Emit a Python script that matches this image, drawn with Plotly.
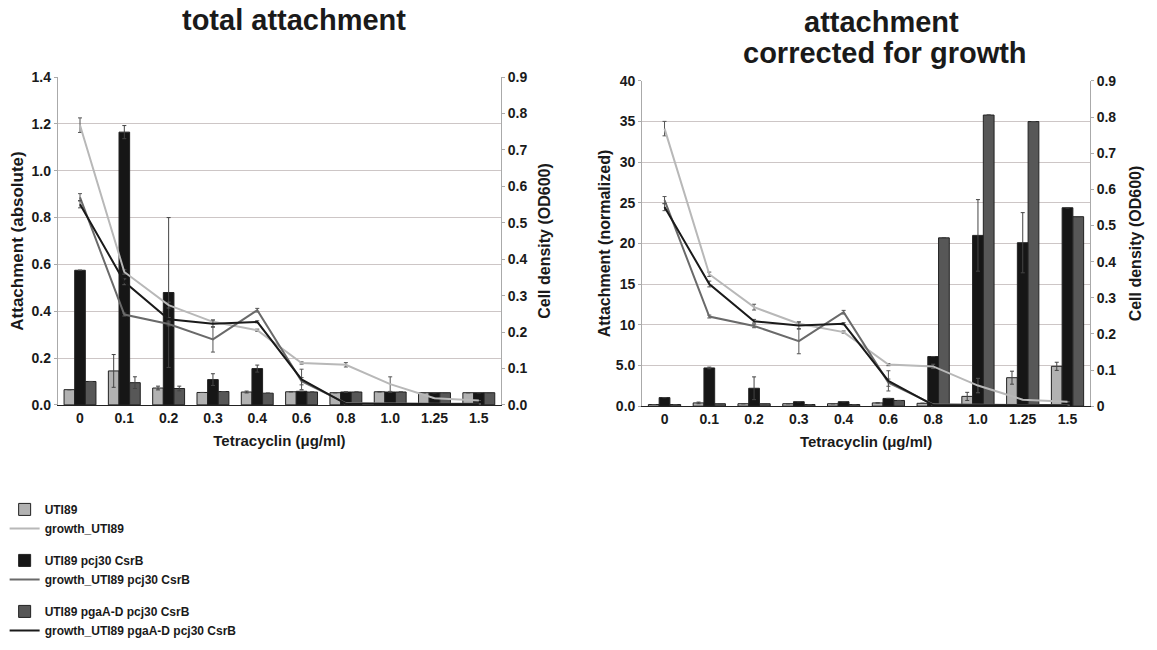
import plotly.graph_objects as go

# Tetracyclin concentrations (µg/ml)
conc = ["0", "0.1", "0.2", "0.3", "0.4", "0.6", "0.8", "1.0", "1.25", "1.5"]

# Total attachment (absolute)
abs_uti89 = [0.065, 0.145, 0.072, 0.053, 0.055, 0.056, 0.052, 0.056, 0.052, 0.052]
abs_uti89_err = [0.0, 0.07, 0.008, 0.0, 0.004, 0.0, 0.0, 0.0, 0.0, 0.0]
abs_csrb = [0.575, 1.165, 0.48, 0.108, 0.155, 0.058, 0.055, 0.055, 0.052, 0.052]
abs_csrb_err = [0.0, 0.028, 0.32, 0.025, 0.015, 0.0, 0.0, 0.0, 0.0, 0.0]
abs_pga = [0.1, 0.095, 0.07, 0.057, 0.05, 0.055, 0.055, 0.055, 0.052, 0.052]
abs_pga_err = [0.0, 0.025, 0.01, 0.0, 0.0, 0.0, 0.0, 0.0, 0.0, 0.0]

# Attachment corrected for growth (normalized)
norm_uti89 = [0.2, 0.4, 0.3, 0.3, 0.3, 0.4, 0.35, 1.2, 3.5, 4.9]
norm_uti89_err = [0.0, 0.1, 0.0, 0.0, 0.0, 0.0, 0.0, 0.5, 0.8, 0.5]
norm_csrb = [1.05, 4.7, 2.2, 0.55, 0.55, 0.95, 6.1, 21.0, 20.1, 24.4]
norm_csrb_err = [0.0, 0.1, 1.4, 0.0, 0.0, 0.0, 0.0, 4.4, 3.7, 0.0]
norm_pga = [0.2, 0.3, 0.3, 0.2, 0.2, 0.7, 20.7, 35.8, 35.0, 23.3]
norm_pga_err = [0.0, 0.0, 0.0, 0.0, 0.0, 0.0, 0.0, 0.0, 0.0, 0.0]

# Growth (cell density, OD600)
od_uti89 = [0.768, 0.365, 0.274, 0.228, 0.205, 0.115, 0.11, 0.057, 0.018, 0.012]
od_uti89_err = [0.02, 0.006, 0.008, 0.005, 0.003, 0.003, 0.006, 0.02, 0.0, 0.0]
od_csrb = [0.57, 0.248, 0.222, 0.18, 0.26, 0.065, 0.005, 0.003, 0.003, 0.003]
od_csrb_err = [0.01, 0.004, 0.005, 0.035, 0.005, 0.01, 0.0, 0.0, 0.0, 0.0]
od_pga = [0.551, 0.338, 0.235, 0.223, 0.228, 0.07, 0.003, 0.002, 0.002, 0.002]
od_pga_err = [0.01, 0.008, 0.005, 0.01, 0.003, 0.028, 0.0, 0.0, 0.0, 0.0]

# Strain names and styles
strains = ["UTI89", "UTI89 pcj30 CsrB", "UTI89 pgaA-D pcj30 CsrB"]
bar_colors = ["#b2b2b2", "#161616", "#575757"]
line_colors = ["#b8b8b8", "#6a6a6a", "#1a1a1a"]

FONT = "Liberation Sans, Arial, sans-serif"

fig = go.Figure()

panels = [
    ("x", "y", "y2", [abs_uti89, abs_csrb, abs_pga], [abs_uti89_err, abs_csrb_err, abs_pga_err], True),
    ("x2", "y3", "y4", [norm_uti89, norm_csrb, norm_pga], [norm_uti89_err, norm_csrb_err, norm_pga_err], False),
]
growth = [od_uti89, od_csrb, od_pga]
growth_err = [od_uti89_err, od_csrb_err, od_pga_err]

for xa, ya, ya2, bars, bar_errs, legend in panels:
    for i, name in enumerate(strains):
        fig.add_trace(go.Bar(
            x=conc, y=bars[i], name=name, legendgroup=name, showlegend=legend,
            xaxis=xa, yaxis=ya,
            marker=dict(color=bar_colors[i], line=dict(color="#222222", width=1)),
            error_y=dict(type="data", array=bar_errs[i], color="#444444", thickness=1, width=2),
        ))
    for i, name in enumerate(strains):
        fig.add_trace(go.Scatter(
            x=conc, y=growth[i], name="growth_" + name, legendgroup=name, showlegend=legend,
            xaxis=xa, yaxis=ya2, mode="lines",
            line=dict(color=line_colors[i], width=2),
            error_y=dict(type="data", array=growth_err[i], color="#555555", thickness=1, width=2),
        ))

tick_font = dict(family=FONT, size=14, color="#1a1a1a", weight="bold")
grid = "#cdc6c6"
head_font = dict(family=FONT, size=29, color="#1a1a1a", weight="bold")


def ytitle(text, standoff, size=16):
    return dict(text=text, font=dict(family=FONT, size=size, color="#1a1a1a", weight="bold"), standoff=standoff)


xcommon = dict(
    type="category", tickfont=tick_font, showline=True, linecolor="#222222", linewidth=1,
    ticks="", showgrid=False, zeroline=False,
    title=dict(text="Tetracyclin (μg/ml)", font=dict(family=FONT, size=15, color="#1a1a1a", weight="bold"), standoff=10),
)
yline = dict(showline=True, linecolor="#aaaaaa", ticks="outside", ticklen=3, tickcolor="#aaaaaa", zeroline=False)

fig.update_layout(
    width=1157, height=650,
    margin=dict(l=0, r=0, t=0, b=0),
    paper_bgcolor="white", plot_bgcolor="white",
    barmode="group", bargap=0.28, bargroupgap=0.0,
    font=dict(family=FONT, color="#1a1a1a"),
    xaxis=dict(domain=[0.050, 0.433], anchor="y", **xcommon),
    yaxis=dict(
        range=[0, 1.4], dtick=0.2, tickformat=".1f", tickfont=tick_font,
        showgrid=True, gridcolor=grid, gridwidth=1, **yline,
        domain=[0.374, 0.891], anchor="x",
        title=ytitle("Attachment (absolute)", 3, 17),
    ),
    yaxis2=dict(
        range=[0, 0.9], dtick=0.1, tickformat=".1f", tickfont=tick_font,
        overlaying="y", side="right", anchor="x", showgrid=False, **yline,
        title=ytitle("Cell density (OD600)", 12),
    ),
    xaxis2=dict(domain=[0.555, 0.942], anchor="y3", **xcommon),
    yaxis3=dict(
        range=[0, 40], tickvals=[0, 5, 10, 15, 20, 25, 30, 35, 40],
        ticktext=["0.0", "5.0", "10", "15", "20", "25", "30", "35", "40"], tickfont=tick_font,
        showgrid=True, gridcolor=grid, gridwidth=1, **yline,
        domain=[0.372, 0.885], anchor="x2",
        title=ytitle("Attachment (normalized)", 1),
    ),
    yaxis4=dict(
        range=[0, 0.9], tickvals=[0, 0.1, 0.2, 0.3, 0.4, 0.5, 0.6, 0.7, 0.8, 0.9],
        ticktext=["0", "0.1", "0.2", "0.3", "0.4", "0.5", "0.6", "0.7", "0.8", "0.9"], tickfont=tick_font,
        overlaying="y3", side="right", anchor="x2", showgrid=False, **yline,
        title=ytitle("Cell density (OD600)", 14),
    ),
    legend=dict(
        x=0.004, y=0.232, xanchor="left", yanchor="top",
        traceorder="grouped", tracegroupgap=13,
        font=dict(family=FONT, size=12, color="#1a1a1a", weight="bold"),
        bgcolor="rgba(0,0,0,0)", itemwidth=30,
    ),
    annotations=[
        dict(text="total attachment", x=0.254, y=1.0, yshift=6, xref="paper", yref="paper",
             xanchor="center", yanchor="top", showarrow=False, font=head_font),
        dict(text="attachment", x=0.762, y=1.0, yshift=4, xref="paper", yref="paper",
             xanchor="center", yanchor="top", showarrow=False, font=head_font),
        dict(text="corrected for growth", x=0.765, y=0.957, xref="paper", yref="paper",
             xanchor="center", yanchor="top", showarrow=False, font=head_font),
    ],
)

fig.write_html("out.html")
